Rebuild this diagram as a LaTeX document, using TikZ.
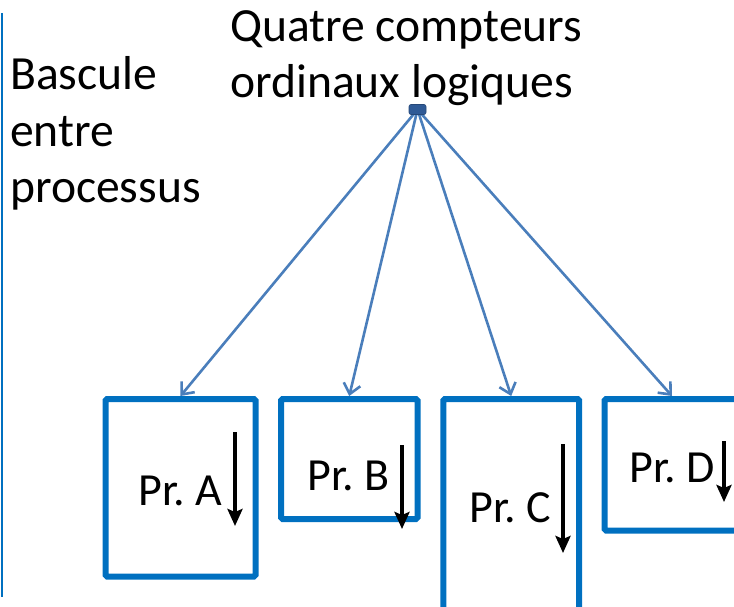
\documentclass[tikz,border=0pt]{standalone}
\usepackage{fontspec}
\setmainfont{Carlito}
\usetikzlibrary{arrows.meta,backgrounds}
\definecolor{boxblue}{HTML}{0070C0}
\definecolor{linkblue}{HTML}{4A7EBB}
\definecolor{hubblue}{HTML}{2F5A96}
\frenchspacing
\begin{document}
\begin{tikzpicture}[x=1pt,y=-1pt,
  procbox/.style={draw=boxblue, line width=6pt, rounded corners=1.5pt, inner sep=0pt},
  proclabel/.style={font=\fontsize{46}{55}\selectfont, inner sep=0pt, anchor=base},
  bigtext/.style={font=\fontsize{47.6}{56}\selectfont, inner sep=0pt, align=left, anchor=base west},
  link/.style={draw=linkblue, line width=2.6pt, -{Straight Barb[length=10pt,width=17pt]}},
  flow/.style={draw=black, line width=4.2pt, -{Stealth[length=17pt,width=15pt,inset=3pt]}},
  hub/.style={fill=hubblue, draw=hubblue!80!black, line width=0.6pt, rounded corners=2pt,
              minimum width=17pt, minimum height=10pt, inner sep=0pt},
  sidebar/.style={draw=boxblue, line width=2pt}]
\useasboundingbox (0,0) rectangle (734,607);

% side rule on the left
\coordinate (barTop) at (2,13);
\coordinate (barBot) at (2,597);
\draw[sidebar] (barTop) -- (barBot);

% headings
\node[bigtext] (title) at (230,98) {Quatre compteurs\\ordinaux logiques};
\node[bigtext] (switch) at (10,202) {Bascule\\entre\\processus};

% the four process boxes
\node[procbox, minimum width=150, minimum height=177.5] (boxA) at (180.5,487.75) {};
\node[procbox, minimum width=136.5, minimum height=120] (boxB) at (349.25,459) {};
\node[procbox, minimum width=135.7, minimum height=221] (boxC) at (511.2,509.5) {};
\node[procbox, minimum width=135, minimum height=131.5] (boxD) at (672,464.75) {};

% labels inside the boxes
\node[proclabel] (labA) at (180.5,505) {Pr. A};
\node[proclabel] (labB) at (348.5,490) {Pr. B};
\node[proclabel] (labC) at (510.5,522) {Pr. C};
\node[proclabel] (labD) at (672,482) {Pr. D};

% progress arrows of each process
\coordinate (fA1) at (235,432); \coordinate (fA2) at (235,526);
\coordinate (fB1) at (402,445); \coordinate (fB2) at (402,529);
\coordinate (fC1) at (563,444); \coordinate (fC2) at (563,553);
\coordinate (fD1) at (724,441); \coordinate (fD2) at (724,502);
\draw[flow] (fA1) -- (fA2);
\draw[flow] (fB1) -- (fB2);
\draw[flow] (fC1) -- (fC2);
\draw[flow] (fD1) -- (fD2);

% hub and its links to the boxes
\node[hub] (hub) at (417.5,109.5) {};
\begin{pgfonlayer}{background}
  \draw[link] (hub.center) -- (boxA.north);
  \draw[link] (hub.center) -- (boxB.north);
  \draw[link] (hub.center) -- (boxC.north);
  \draw[link] (hub.center) -- (boxD.north);
\end{pgfonlayer}
\end{tikzpicture}
\end{document}
